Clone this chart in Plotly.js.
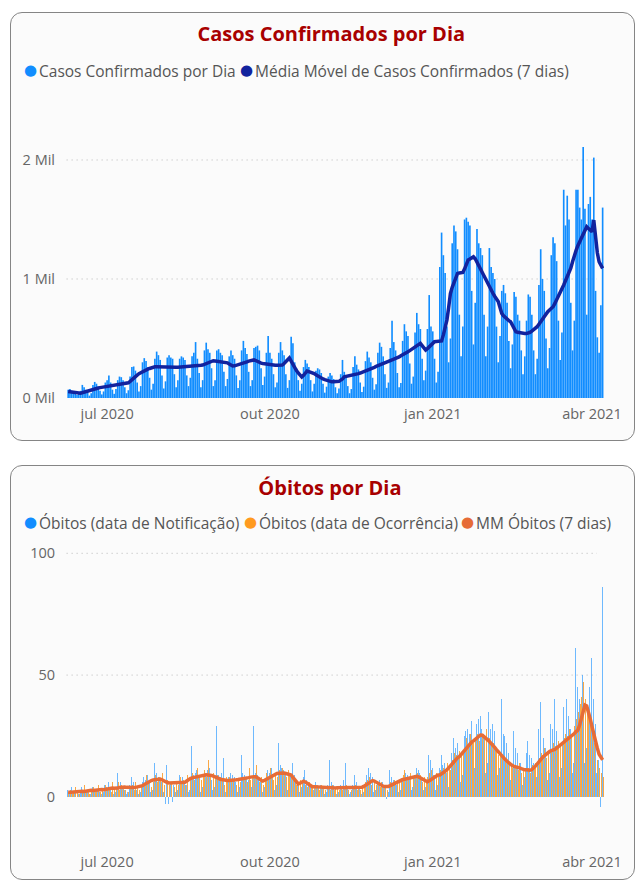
<!DOCTYPE html>
<html><head><meta charset="utf-8">
<script src="https://cdn.plot.ly/plotly-3.0.1.min.js"></script>
<style>
body{margin:0;width:637px;height:883px;background:#fff;position:relative;overflow:hidden}
.card{position:absolute;left:10px;width:625px;border:1.5px solid #858585;border-radius:12px;background:#fbfbfb;box-sizing:border-box}
#c1{top:12px;height:429px}
#c2{top:465px;height:415px}
.plot{position:absolute;left:0;width:637px}
#p1{top:0;height:440px}
#p2{top:460px;height:423px}
</style></head>
<body>
<div class="card" id="c1"></div>
<div class="card" id="c2"></div>
<div class="plot" id="p1"></div>
<div class="plot" id="p2"></div>
<script>
const startDate = '2020-06-09';
const tickDates = ['2020-07-01','2020-10-01','2021-01-01','2021-04-01'];
const tickLabels = ['jul 2020','out 2020','jan 2021','abr 2021'];

const casosDia = [
70,75,60,55,50,25,45, 60,110,90,70,50,20,40, 110,135,120,95,60,30,55, 130,150,190,130,70,35,75,
150,180,175,150,90,40,65, 180,260,265,230,130,55,100, 300,335,310,260,170,70,120, 330,390,360,320,190,80,140,
340,360,340,330,200,90,150, 330,350,340,320,190,100,170, 350,380,470,330,210,90,150, 400,465,410,380,250,100,150,
400,410,380,360,220,100,160, 350,400,360,330,190,85,150, 400,480,420,370,220,100,150, 420,430,440,400,250,110,180,
380,520,380,330,200,90,130, 380,470,400,360,200,85,150, 515,460,300,250,150,60,120, 260,320,290,260,150,55,120,
230,250,240,210,120,45,95, 180,210,190,160,90,40,80, 200,320,220,190,100,40,75, 260,350,280,240,130,50,95,
310,390,340,300,170,70,115, 380,465,430,350,200,85,130, 420,650,470,400,210,90,125, 480,620,560,520,290,120,180,
550,715,620,580,330,150,230, 580,865,600,560,330,130,220, 1100,1390,1200,1050,600,300,500, 1300,1450,1400,1250,700,350,600,
1500,1515,1480,1450,900,450,800, 1420,1300,1260,1200,700,350,600, 1260,1100,1050,1000,600,300,520, 900,950,880,800,480,250,450,
890,850,700,650,400,200,350, 650,870,850,700,400,200,330, 950,1250,1000,900,500,250,420, 1200,1350,1300,1150,650,320,550,
1750,1450,1700,1500,800,400,650, 1750,1750,1600,1500,2110,1590,700, 1630,1690,1500,2020,900,510,380, 780,1600];

const casosMM = [
55,54,52,50,47,44,42, 40,45,50,55,60,65,70, 74,77,80,84,87,90,93, 96,99,102,104,106,109,112,
115,117,119,121,123,126,128, 140,155,168,180,192,204,213, 221,228,235,242,248,254,260, 262,262,261,260,259,258,258,
257,257,256,256,257,258,258, 259,259,260,260,260,261,263, 265,267,269,271,273,275,277, 283,290,297,304,310,313,311,
309,307,305,304,302,300,295, 285,275,269,270,274,278,282, 286,292,298,304,310,315,319, 320,315,305,297,293,290,287,
284,281,277,276,276,275,275, 276,276,277,290,305,320,336, 310,280,252,230,210,190,176, 190,210,227,222,217,213,205,
195,185,175,168,160,154,148, 142,137,136,136,137,137,140, 150,160,179,182,184,186,188, 190,195,200,205,210,215,221,
226,232,238,245,252,258,265, 272,279,286,293,299,305,310, 316,321,326,330,336,345,355, 362,370,378,388,398,408,418,
428,438,448,459,440,420,403, 415,430,445,460,473,475,477, 478,480,530,590,655,760,879, 930,970,1010,1047,1050,1052,1055,
1085,1120,1159,1168,1176,1187,1170, 1140,1110,1089,1060,1025,990,955, 930,905,880,855,837,810,760, 711,690,675,660,650,641,615,
585,557,552,548,545,543,543, 543,545,552,562,574,587,599, 620,642,665,688,711,725,740, 755,767,795,823,851,879,915,
950,985,1020,1047,1090,1145,1201, 1240,1280,1313,1345,1375,1410,1439, 1425,1410,1397,1495,1330,1220,1145, 1110,1089];

const obitosNotif = [
3,2,4,2,2,0,1, 3,4,2,3,2,1,1, 4,3,5,3,2,1,2, 5,4,6,4,3,1,2,
10,5,6,4,3,1,2, 5,8,6,5,3,1,2, 6,8,7,9,6,2,3, 14,10,9,8,6,2,-3,
13,-3,6,-2,5,2,3, 9,7,8,6,5,2,3, 21,9,10,11,8,2,4, 19,10,11,12,7,3,4,
29,9,8,10,16,2,3, 8,10,9,8,6,2,4, 17,10,9,8,7,2,4, 29,10,9,8,6,2,4,
14,11,10,12,9,3,5, 22,13,12,11,10,3,5, 10,14,9,8,6,2,4, 8,11,7,6,4,1,3,
6,5,7,5,4,1,2, 5,15,6,5,4,1,2, 5,6,7,14,4,1,2, 5,9,6,5,4,1,2,
7,9,12,10,8,2,3, 6,7,13,6,4,-1,2, 11,8,7,6,5,2,3, 7,11,10,9,8,3,4,
9,12,11,10,7,3,4, 17,17,15,12,9,3,5, 12,17,13,14,10,4,6, 18,24,20,22,16,6,9,
25,27,28,26,31,8,12, 30,32,33,28,26,10,14, 35,28,30,27,24,9,12, 40,26,25,22,18,7,10,
27,20,18,17,14,5,8, 18,23,17,16,14,5,8, 28,39,25,24,20,7,10, 30,28,40,27,24,8,12,
37,30,40,33,28,10,14, 61,45,40,68,50,14,20, 64,45,57,40,30,10,15, -4,86];

const obitosOcorr = [
2,3,1,2,4,2,1, 3,2,5,2,3,1,3, 4,2,3,5,2,3,3, 5,3,4,2,6,3,4,
6,3,5,4,3,5,2, 4,5,3,6,4,3,5, 7,5,9,6,8,4,6, 9,6,8,7,10,5,6,
7,5,6,8,4,6,5, 8,6,7,5,9,6,7, 10,7,9,12,8,7,9, 11,8,15,9,7,10,8,
9,6,8,7,5,8,7, 8,6,7,9,5,7,6, 9,7,8,6,12,7,8, 8,13,7,6,8,5,7,
10,8,12,9,7,10,8, 11,9,12,10,8,11,9, 8,7,6,5,6,7,6, 6,5,4,6,5,4,5,
5,4,3,5,4,3,4, 4,3,5,3,4,4,3, 4,3,4,5,3,4,3, 4,5,3,4,3,5,4,
6,7,8,5,7,6,5, 5,4,6,4,5,3,5, 6,5,7,8,6,7,6, 9,11,7,8,10,6,8,
8,10,7,9,6,8,7, 8,10,11,9,7,10,9, 11,13,12,10,14,12,11, 15,18,17,16,19,17,18,
22,24,21,26,23,22,24, 26,23,31,25,24,28,25, 24,21,22,19,20,17,18, 17,15,16,14,13,14,12,
13,12,11,14,10,12,11, 11,12,10,13,12,14,13, 16,18,17,20,16,18,19, 19,22,21,20,23,21,22,
24,26,25,28,24,27,29, 32,35,38,41,47,40,36, 33,30,27,22,18,15,12, 10,8];

const obitosMM = [
1.9,1.8,1.9,2.0,2.1,2.2,2.3, 2.4,2.3,2.2,2.4,2.6,2.8,2.7, 2.6,2.7,2.9,3.0,3.1,3.0,2.9, 3.1,3.2,3.4,3.5,3.6,3.5,3.4,
3.6,3.8,3.9,4.1,4.0,3.9,3.8, 4.0,3.9,3.8,3.9,4.1,4.2,4.3, 4.6,5.1,5.6,6.0,6.4,6.7,6.9, 7.0,7.2,7.4,7.3,7.0,6.5,6.1,
5.9,5.7,5.7,5.8,5.9,6.0,5.9, 6.0,6.0,5.9,6.0,6.5,7.1,7.5, 7.8,8.0,8.1,8.3,8.6,8.8,8.9, 9.0,9.1,9.0,9.0,8.8,8.5,8.3,
8.0,7.6,7.2,7.0,6.9,6.8,6.7, 6.7,6.7,6.8,6.9,7.0,7.1,7.2, 7.3,7.4,7.4,7.6,7.9,8.1,8.3, 8.3,8.3,8.0,7.4,6.8,6.5,6.8,
7.2,7.7,8.1,8.6,9.0,9.4,9.6, 9.7,9.8,9.9,9.8,9.6,9.4,9.3, 9.0,8.0,7.0,6.0,5.3,5.6,6.2, 6.4,6.1,5.6,5.0,4.5,4.2,4.2,
4.1,4.2,4.2,4.0,3.9,3.8,3.8, 3.8,3.7,3.7,3.6,3.6,3.7,3.7, 3.6,3.6,3.7,3.7,3.7,3.7,3.6, 3.6,3.7,3.8,3.7,3.7,3.9,4.3,
4.8,5.4,6.0,6.5,6.7,6.5,6.0, 5.5,5.0,4.6,4.4,4.3,4.2,4.3, 4.6,5.0,5.4,5.8,6.2,6.6,7.0, 7.1,7.2,7.4,7.6,7.9,8.1,8.3,
8.3,8.4,8.2,7.8,7.2,6.6,6.2, 6.2,6.6,7.1,7.6,8.1,8.6,9.0, 9.0,9.4,9.9,10.5,11.1,11.9,12.8, 13.7,14.6,15.5,16.0,16.5,17.4,18.4,
19.3,20.2,21.0,21.8,22.5,23.0,23.5, 24.2,24.9,25.4,25.3,24.8,24.0,23.4, 22.7,22.0,21.2,20.3,19.4,18.5,17.5, 16.6,16.0,15.3,14.6,13.9,13.3,12.8,
12.5,12.4,12.2,11.9,11.6,11.3,11.1, 11.1,11.0,10.9,11.2,11.8,12.6,13.5, 14.6,15.5,16.2,16.8,17.5,18.1,18.6, 19.0,19.2,19.5,20.0,20.6,21.2,21.9,
22.4,22.9,23.3,23.9,24.6,25.3,26.0, 26.8,27.4,29.5,32.5,35.2,37.7,37.3, 35.0,32.0,28.8,25.5,22.5,20.0,17.5, 16.0,15.2];

const legend1Names = ['Casos Confirmados por Dia', 'Média Móvel de Casos Confirmados (7 dias)'];
const legend1Colors = ['#118DFF', '#12239E'];
const legend2Names = ['Óbitos (data de Notificação)', 'Óbitos (data de Ocorrência)', 'MM Óbitos (7 dias)'];
const legend2Colors = ['#118DFF', '#FF9A1F', '#E66C37'];

// date categories (one per day from startDate)
const dates = [];
{
  const d0 = new Date(startDate + 'T00:00:00Z');
  for (let i = 0; i < casosDia.length; i++) {
    const d = new Date(d0.getTime() + i * 86400000);
    dates.push(d.toISOString().slice(0, 10));
  }
}

const FONT = '"Segoe UI", "Open Sans", "Noto Sans", sans-serif';
const GRAY = '#666666';
const xRange = ['2020-06-07 05:00', '2021-04-08 08:00'];
const PL = 65, PW = 540;

function xaxisCfg() {
  return {type: 'date', range: xRange, tickvals: tickDates, ticktext: tickLabels,
    showgrid: false, zeroline: false, showline: false, ticks: '', ticklabelstandoff: 5,
    tickfont: {family: FONT, size: 14.5, color: GRAY}, fixedrange: true};
}
function gridShape(yv) {
  return {type: 'line', xref: 'paper', x0: 0.003, x1: 0.985, yref: 'y', y0: yv, y1: yv,
    line: {color: '#b8b8b8', width: 1, dash: '1px,4px'}, layer: 'below'};
}
// legend made of annotations placed at pixel positions (converted to paper coords)
function legendAnns(names, colors, dotXs, textXs, py, plotTop, plotH) {
  const yp = (plotTop + plotH - py) / plotH;
  const out = [];
  names.forEach((n, i) => {
    out.push({xref: 'paper', yref: 'paper', x: (dotXs[i] - PL) / PW, y: yp + 0.003, xanchor: 'center', yanchor: 'middle',
      showarrow: false, text: '●', font: {family: 'DejaVu Sans', size: 15, color: colors[i]}});
    out.push({xref: 'paper', yref: 'paper', x: (textXs[i] - PL) / PW, y: yp, xanchor: 'left', yanchor: 'middle',
      showarrow: false, text: n, font: {family: FONT, size: 15.5, color: '#555555'}});
  });
  return out;
}

// Chart 1
Plotly.newPlot('p1', [
  {type: 'bar', x: dates, y: casosDia, marker: {color: '#118DFF'}, showlegend: false, hoverinfo: 'skip'},
  {type: 'scatter', mode: 'lines', x: dates, y: casosMM, line: {color: '#12239E', width: 3.5}, showlegend: false, hoverinfo: 'skip'}
], {
  width: 637, height: 440, margin: {l: PL, r: 32, t: 100, b: 42},
  paper_bgcolor: 'rgba(0,0,0,0)', plot_bgcolor: 'rgba(0,0,0,0)',
  bargap: 0.07,
  title: {text: '<b>Casos Confirmados por Dia</b>', xref: 'container', x: 0.52, xanchor: 'center',
    yref: 'container', y: 1 - 34/440, yanchor: 'middle', font: {family: FONT, size: 20, color: '#A80000'}},
  xaxis: xaxisCfg(),
  yaxis: {range: [0, 2504], tickvals: [0, 1000, 2000], ticktext: ['0 Mil', '1 Mil', '2 Mil'],
    showgrid: false, zeroline: false, showline: false, ticks: '', ticklabelstandoff: 9,
    tickfont: {family: FONT, size: 14.5, color: GRAY}, fixedrange: true},
  shapes: [gridShape(1000), gridShape(2000)],
  annotations: legendAnns(legend1Names, legend1Colors, [30, 246], [37, 253], 71, 100, 298)
}, {displayModeBar: false, staticPlot: true});

// Chart 2
Plotly.newPlot('p2', [
  {type: 'bar', x: dates, y: obitosNotif, marker: {color: '#3FA3FF'}, opacity: 0.75, showlegend: false, hoverinfo: 'skip'},
  {type: 'bar', x: dates, y: obitosOcorr, marker: {color: '#F9A033'}, opacity: 0.9, showlegend: false, hoverinfo: 'skip'},
  {type: 'scatter', mode: 'lines', x: dates, y: obitosMM, line: {color: '#E66C37', width: 3.5}, showlegend: false, hoverinfo: 'skip'}
], {
  width: 637, height: 423, margin: {l: PL, r: 32, t: 86, b: 35},
  paper_bgcolor: 'rgba(0,0,0,0)', plot_bgcolor: 'rgba(0,0,0,0)',
  barmode: 'group', bargap: 0, bargroupgap: 0,
  title: {text: '<b>Óbitos por Dia</b>', xref: 'container', x: 0.518, xanchor: 'center',
    yref: 'container', y: 1 - 28/423, yanchor: 'middle', font: {family: FONT, size: 20, color: '#A80000'}},
  xaxis: Object.assign(xaxisCfg(), {ticklabelstandoff: 3}),
  yaxis: {range: [-21, 103], tickvals: [0, 50, 100], ticktext: ['0', '50', '100'],
    showgrid: false, zeroline: false, showline: false, ticks: '', ticklabelstandoff: 9,
    tickfont: {family: FONT, size: 14.5, color: GRAY}, fixedrange: true},
  shapes: [gridShape(50), gridShape(100)],
  annotations: legendAnns(legend2Names, legend2Colors, [30, 250, 467], [37, 257, 474], 63, 86, 302)
}, {displayModeBar: false, staticPlot: true});
</script>
</body></html>
